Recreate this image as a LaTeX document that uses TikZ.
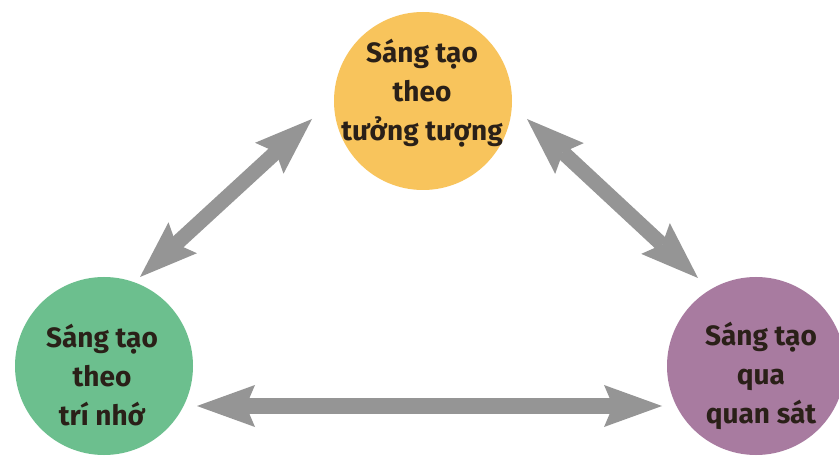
\documentclass[tikz,border=0pt]{standalone}
\usepackage{fontspec}
\setmainfont{Fira Sans}
\usetikzlibrary{arrows.meta,calc}
\definecolor{cyellow}{HTML}{F8C45C}
\definecolor{cgreen}{HTML}{6CBF8E}
\definecolor{cpurple}{HTML}{A87BA0}
\definecolor{cgray}{HTML}{959595}
\definecolor{ctext}{HTML}{2A2018}
\begin{document}
\begin{tikzpicture}[x=1pt,y=-1pt,
  bubble/.style={circle,inner sep=0pt,minimum size=178pt},
  label/.style={align=center,font=\fontsize{28}{39}\selectfont\bfseries,text=ctext,inner sep=0pt},
  link/.style={line width=15pt,draw=cgray,
    {Stealth[length=58pt,width=42pt,inset=9pt,line width=0pt]}-{Stealth[length=58pt,width=42pt,inset=9pt,line width=0pt]}}]
\useasboundingbox (0,0) rectangle (839,457);
\clip (0,0) rectangle (839,457);
\fill[white] (0,0) rectangle (839,457);
% circles
\node[bubble,fill=cyellow] (T) at (423,101) {};
\node[bubble,fill=cgreen]  (L) at (104,366) {};
\node[bubble,fill=cpurple] (R) at (756,366) {};
% texts
\node[label] (Tt) at ($(T)+(-1,-8)$) {Sáng tạo\\theo\\tưởng tượng};
\node[label] (Lt) at ($(L)+(-2,9)$) {Sáng tạo\\theo\\trí nhớ};
\node[label] (Rt) at ($(R)+(5,10)$) {Sáng tạo\\qua\\quan sát};
% arrow ends
\coordinate (a1) at ($(L)+(36,-89)$);
\coordinate (a2) at ($(T)+(-111,18)$);
\coordinate (b1) at ($(T)+(104,18)$);
\coordinate (b2) at ($(R)+(-58,-88)$);
\coordinate (c1) at ($(L)+(93,40)$);
\coordinate (c2) at ($(R)+(-94,40)$);
% connectors
\draw[link] (a1) -- (a2);
\draw[link] (b1) -- (b2);
\draw[link] (c1) -- (c2);
\end{tikzpicture}
\end{document}
